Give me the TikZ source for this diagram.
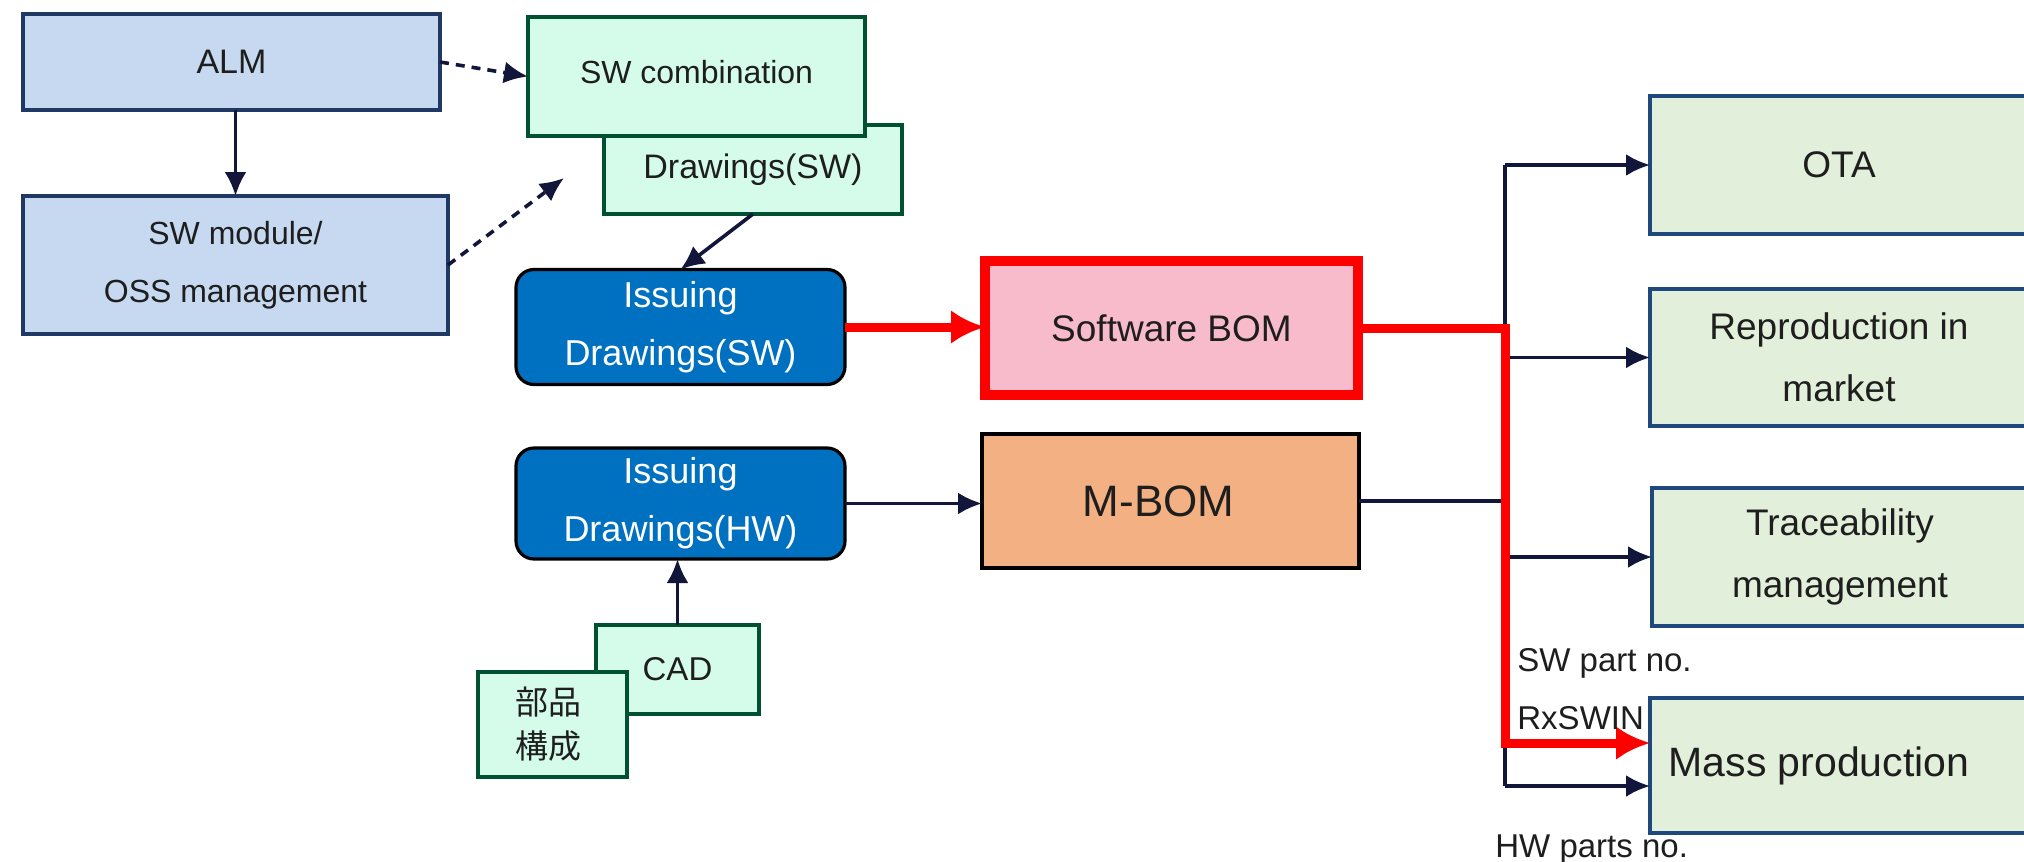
\documentclass[tikz,border=0pt]{standalone}
\usepackage{fontspec}
\setmainfont{Liberation Sans}
\newfontfamily\jpfont{Noto Sans CJK JP}
\usetikzlibrary{arrows.meta}
\definecolor{almfill}{RGB}{198,217,241}
\definecolor{almline}{RGB}{31,56,100}
\definecolor{mintfill}{RGB}{213,252,235}
\definecolor{mintline}{RGB}{0,80,50}
\definecolor{issfill}{RGB}{0,112,192}
\definecolor{bomfill}{RGB}{248,187,203}
\definecolor{mbomfill}{RGB}{243,177,131}
\definecolor{usefill}{RGB}{226,239,218}
\definecolor{useline}{RGB}{31,73,125}
\definecolor{wire}{RGB}{18,22,58}
\definecolor{ink}{RGB}{30,30,30}
\definecolor{hot}{RGB}{255,0,0}

\begin{document}
\begin{tikzpicture}[x=0.5pt,y=-0.5pt,
  box/.style={draw, inner sep=0pt, outer sep=0pt, align=center, text=ink, line width=1.6pt},
  toolbox/.style={box, fill=almfill, draw=almline},
  docbox/.style={box, fill=mintfill, draw=mintline},
  issuebox/.style={box, fill=issfill, draw=black, text=white, rounded corners=9pt,
    font=\fontsize{18}{29}\selectfont},
  usebox/.style={box, fill=usefill, draw=useline, font=\fontsize{18.5}{31}\selectfont},
  wirearrow/.style={draw=wire, line width=1.8pt, -{Latex[length=12pt,width=11pt]}},
  dasharrow/.style={wirearrow, dash pattern=on 4.5pt off 3.5pt},
  hotarrow/.style={draw=hot, line width=4.5pt, -{Latex[length=17pt,width=17pt]}},
  tag/.style={anchor=west, inner sep=0pt, text=ink, font=\fontsize{16.5}{20}\selectfont}
]
\clip (0,0) rectangle (2024,862);
\fill[white] (0,0) rectangle (2024,862);

% software tool chain
\node[toolbox, minimum width=208.5pt, minimum height=48pt, font=\fontsize{17}{29}\selectfont]
  (alm) at (231.5,62) {ALM};
\node[toolbox, minimum width=212.5pt, minimum height=69pt, font=\fontsize{16}{29}\selectfont]
  (swm) at (235.5,265) {SW module/\\OSS management};

% software drawings
\node[docbox, minimum width=149pt, minimum height=44.5pt, font=\fontsize{17}{29}\selectfont]
  (drw) at (753,169.5) {\raisebox{-6pt}{Drawings(SW)}};
\node[docbox, minimum width=168.5pt, minimum height=59.5pt, font=\fontsize{16}{29}\selectfont]
  (swc) at (696.5,76.5) {\raisebox{5pt}{SW combination}};
\node[issuebox, minimum width=164.5pt, minimum height=57.5pt]
  (iss) at (680.5,327) {Issuing\\Drawings(SW)};

% hardware drawings
\node[issuebox, minimum width=164.5pt, minimum height=55.5pt]
  (ihw) at (680.5,503.5) {Issuing\\Drawings(HW)};
\node[docbox, minimum width=81.5pt, minimum height=44.5pt, font=\fontsize{16.5}{29}\selectfont]
  (cad) at (677.5,669.5) {CAD};
\node[docbox, minimum width=74.5pt, minimum height=52.5pt, font=\jpfont\fontsize{16.5}{22}\selectfont]
  (parts) at (552.5,724.5) {\hspace*{-4pt}部品\\\hspace*{-4pt}構成};

% bills of materials
\node[box, fill=bomfill, draw=hot, line width=5pt, minimum width=186.5pt, minimum height=67pt,
  font=\fontsize{18.5}{29}\selectfont] (sbom) at (1171.5,328) {Software BOM};
\node[box, fill=mbomfill, draw=black, line width=1.8pt, minimum width=188.5pt, minimum height=67pt,
  font=\fontsize{22}{29}\selectfont] (mbom) at (1170.5,501) {\hspace*{-12pt}M-BOM};

% downstream uses
\node[usebox, minimum width=189pt, minimum height=69pt] (ota) at (1839,165) {OTA};
\node[usebox, minimum width=189pt, minimum height=68.5pt] (rep) at (1839,357.5) {Reproduction in\\market};
\node[usebox, minimum width=188pt, minimum height=69pt] (trc) at (1840,557) {Traceability\\management};
\node[usebox, minimum width=189pt, minimum height=67.5pt, font=\fontsize{20.5}{31}\selectfont]
  (mp) at (1839,765.5) {\hspace*{-20pt}Mass production};

% tool chain connectors
\coordinate (dashend) at (564,178);
\draw[dasharrow] (alm.east) -- (swc.west);
\draw[wirearrow] (alm.south -| swm.north) -- (swm.north);
\draw[dasharrow] (swm.east) -- (dashend);
\draw[wirearrow] (drw.south) -- (iss.north);
\draw[wirearrow] (cad.north) -- (cad.north |- ihw.south);
\draw[wirearrow] (ihw.east) -- (ihw.east -| mbom.west);

% distribution bus
\coordinate (bus) at (1505,501);
\coordinate (swin) at ([yshift=11.25pt]mp.west);
\coordinate (hwin) at ([yshift=-10.25pt]mp.west);
\draw[draw=wire, line width=1.8pt] (mbom.east) -- (bus);
\draw[draw=wire, line width=1.8pt] (bus |- ota.west) -- (bus |- hwin);
\draw[wirearrow] (bus |- ota.west) -- (ota.west);
\draw[wirearrow] (bus |- rep.west) -- (rep.west);
\draw[wirearrow] (bus |- trc.west) -- (trc.west);
\draw[wirearrow] (bus |- hwin) -- (hwin);

% software BOM path
\draw[hotarrow] (iss.east) -- (iss.east -| sbom.west);
\draw[hotarrow] (sbom.east) -- (bus |- sbom.east) -- (bus |- swin) -- (swin);

% part number labels
\node[tag] (swno) at (1517,663) {SW part no.};
\node[tag] (rxswin) at (1517,718) {RxSWIN};
\node[tag] (hwno) at (1495,850) {HW parts no.};
\end{tikzpicture}
\end{document}
